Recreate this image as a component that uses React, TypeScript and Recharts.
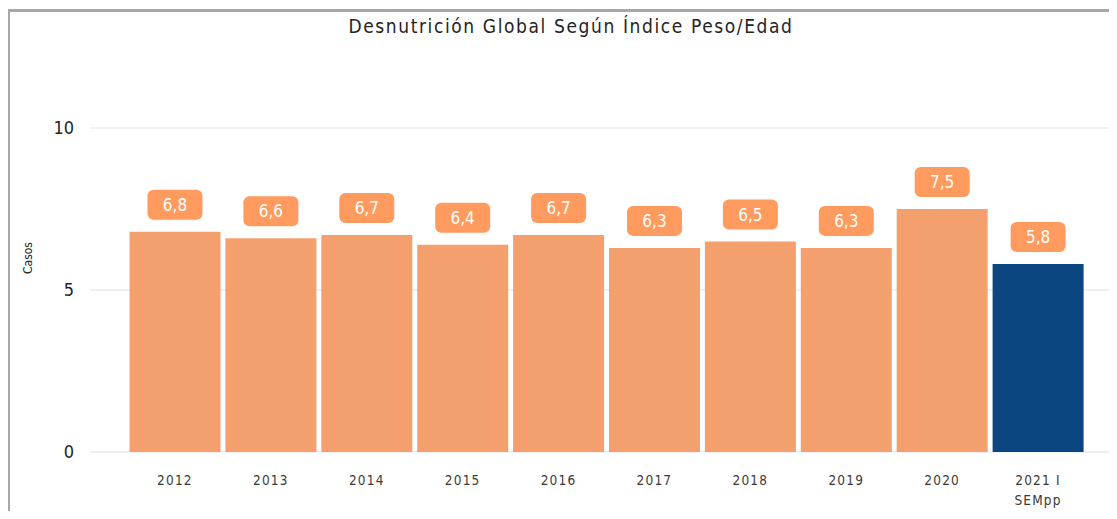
import React from "react";
import { Bar, BarChart, CartesianGrid, Cell, LabelList, XAxis, YAxis } from "recharts";

const years = ["2012", "2013", "2014", "2015", "2016", "2017", "2018", "2019", "2020", "2021 I\nSEMpp"];
const casos = [6.8, 6.6, 6.7, 6.4, 6.7, 6.3, 6.5, 6.3, 7.5, 5.8];
const yTicks = [0, 5, 10];

const data = years.map((year, i) => ({ year, casos: casos[i] }));

const FONT = "'DejaVu Sans Condensed', 'DejaVu Sans', sans-serif";
const ORANGE = "#f4a06e";
const LABEL_BG = "#ff9b5e";
const NAVY = "#0b4680";

const fmt = (v: number) => v.toFixed(1).replace(".", ",");

function YearTick(props: any) {
  const { x, y, payload } = props;
  const lines = String(payload.value).split("\n");
  return (
    <text x={x} y={y} textAnchor="middle" fill="#3b3a39" fontSize={13.5} fontFamily={FONT} letterSpacing={1.2}>
      {lines.map((line, i) => (
        <tspan key={i} x={x} dy={i === 0 ? 25 : 20}>
          {line}
        </tspan>
      ))}
    </text>
  );
}

function ValueBadge(props: any) {
  const { x, y, width, value } = props;
  const cx = x + width / 2;
  const w = 55;
  const h = 30;
  return (
    <g>
      <rect x={cx - w / 2} y={y - 12 - h} width={w} height={h} rx={6} fill={LABEL_BG} />
      <text x={cx} y={y - 12 - h / 2} dy="0.36em" textAnchor="middle" fill="#ffffff" fontSize={17} fontFamily={FONT}>
        {fmt(Number(value))}
      </text>
    </g>
  );
}

export default function App() {
  return (
    <div style={{ position: "relative", width: 1117, height: 519, margin: -8, background: "#ffffff", overflow: "hidden" }}>
      <div
        style={{
          position: "absolute",
          left: 7,
          top: 9,
          right: -10,
          bottom: -10,
          borderTop: "3px solid #a8a8a8",
          borderLeft: "3px solid #a8a8a8"
        }}
      />
      <div
        style={{
          position: "absolute",
          left: 0,
          width: 1142,
          top: 15,
          textAlign: "center",
          fontFamily: FONT,
          fontSize: 19,
          letterSpacing: 1.6,
          color: "#252423"
        }}
      >
        Desnutrición Global Según Índice Peso/Edad
      </div>
      <div style={{ position: "absolute", left: 0, top: 0 }}>
        <BarChart width={1140} height={519} data={data} margin={{ top: 128, right: 0, bottom: 0, left: 0 }} barCategoryGap={2.5}>
          <CartesianGrid vertical={false} stroke="#ebebeb" strokeWidth={1.5} />
          <XAxis
            dataKey="year"
            axisLine={false}
            tickLine={false}
            interval={0}
            height={67}
            padding={{ left: 37, right: 54 }}
            tick={<YearTick />}
          />
          <YAxis
            domain={[0, 10]}
            ticks={yTicks}
            width={90}
            axisLine={false}
            tickLine={false}
            tickSize={0}
            tickMargin={16}
            tick={{ fill: "#252423", fontSize: 18, fontFamily: FONT }}
            label={{
              content: () => (
                <text x={32} y={258} transform="rotate(-90 32 258)" textAnchor="middle" fill="#252423" fontSize={12} fontFamily={FONT}>
                  Casos
                </text>
              )
            }}
          />
          <Bar dataKey="casos" isAnimationActive={false}>
            {data.map((d, i) => (
              <Cell key={d.year} fill={i === data.length - 1 ? NAVY : ORANGE} />
            ))}
            <LabelList dataKey="casos" content={<ValueBadge />} />
          </Bar>
        </BarChart>
      </div>
    </div>
  );
}
